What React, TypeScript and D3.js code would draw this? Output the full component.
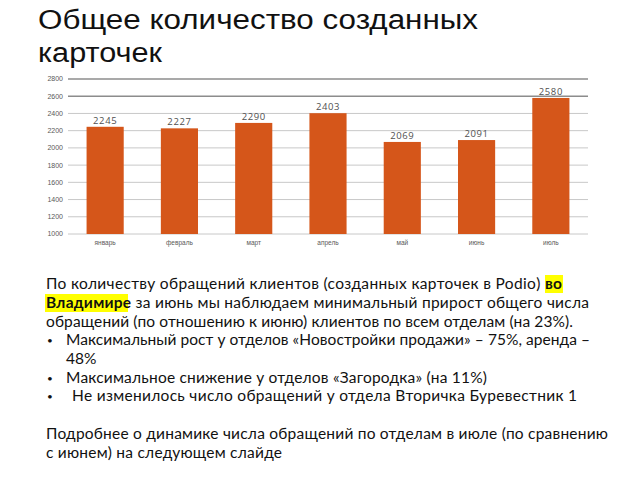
import React from "react";
import * as d3 from "d3";

const months = ["январь", "февраль", "март", "апрель", "май", "июнь", "июль"];
const values = [2245, 2227, 2290, 2403, 2069, 2091, 2580];
const yTicks = [1000, 1200, 1400, 1600, 1800, 2000, 2200, 2400, 2600, 2800];

const titleLines = ["Общее количество созданных", "карточек"];

const W = 640;
const H = 480;

export default function App() {
  const x = d3.scaleBand<string>().domain(months).range([68, 588]).paddingInner(0.5).paddingOuter(0.25);
  const y = d3.scaleLinear().domain([1000, 2800]).range([234, 79]);
  const bodyFont = "Lato, 'Open Sans', sans-serif";
  const fs = 15.5;
  const titleLens = [440, 124];
  return (
    <svg width={W} height={H} style={{ position: "absolute", left: 0, top: 0, background: "#fff" }}>
      <rect width={W} height={H} fill="#fff" />
      {titleLines.map((t, i) => (
        <text key={i} x={38} y={28.5 + i * 33} textLength={titleLens[i]} lengthAdjust="spacingAndGlyphs" fontFamily="'Liberation Sans', Arial, sans-serif" fontSize={27} fill="#111">
          {t}
        </text>
      ))}
      {yTicks.map((t) => (
        <g key={t}>
          <line x1={68} x2={588} y1={y(t)} y2={y(t)} stroke={t >= 2600 ? "#8c8c8c" : "#c8c8c8"} strokeWidth={t >= 2600 ? 1.4 : 1} />
          <text x={63} y={y(t)} dy="0.35em" textAnchor="end" fontSize={7} fontFamily="'Liberation Sans', Arial, sans-serif" fill="#595959">
            {t}
          </text>
        </g>
      ))}
      {months.map((m, i) => (
        <g key={m}>
          <rect x={x(m)} y={y(values[i])} width={x.bandwidth()} height={y(1000) - y(values[i])} fill="#d5561a" />
          <text x={(x(m) as number) + x.bandwidth() / 2} y={y(values[i]) - 3} textAnchor="middle" fontSize={9.5} letterSpacing={0.6} fontFamily="'Open Sans', sans-serif" fill="#505050">
            {values[i]}
          </text>
          <text x={(x(m) as number) + x.bandwidth() / 2} y={245} textAnchor="middle" fontSize={6.5} fontFamily="'Liberation Sans', Arial, sans-serif" fill="#595959">
            {m}
          </text>
        </g>
      ))}
      <rect x={545} y={275} width={18} height={18} fill="#ffff00" />
      <rect x={45} y={294} width={83} height={18} fill="#ffff00" />
      <g fontFamily={bodyFont} fontSize={fs} fill="#111">
        <text x={46} y={289} textLength={516} lengthAdjust="spacing">
          По количеству обращений клиентов (созданных карточек в Podio) <tspan fontWeight="bold">во</tspan>
        </text>
        <text x={46} y={308} textLength={543} lengthAdjust="spacing">
          <tspan fontWeight="bold">Владимире</tspan> за июнь мы наблюдаем минимальный прирост общего числа
        </text>
        <text x={46} y={327} textLength={527} lengthAdjust="spacing">
          обращений (по отношению к июню) клиентов по всем отделам (на 23%).
        </text>
        <text x={47} y={344} fontSize={10}>•</text>
        <text x={66} y={345} textLength={524} lengthAdjust="spacing">
          Максимальный рост у отделов «Новостройки продажи» – 75%, аренда –
        </text>
        <text x={66} y={364}>48%</text>
        <text x={47} y={382} fontSize={10}>•</text>
        <text x={66} y={383} textLength={421} lengthAdjust="spacing">
          Максимальное снижение у отделов «Загородка» (на 11%)
        </text>
        <text x={47} y={400} fontSize={10}>•</text>
        <text x={72} y={401} textLength={505} lengthAdjust="spacing">
          Не изменилось число обращений у отдела Вторичка Буревестник 1
        </text>
        <text x={46} y={439} textLength={562} lengthAdjust="spacing">
          Подробнее о динамике числа обращений по отделам в июле (по сравнению
        </text>
        <text x={46} y={458} textLength={236} lengthAdjust="spacing">
          с июнем) на следующем слайде
        </text>
      </g>
    </svg>
  );
}
